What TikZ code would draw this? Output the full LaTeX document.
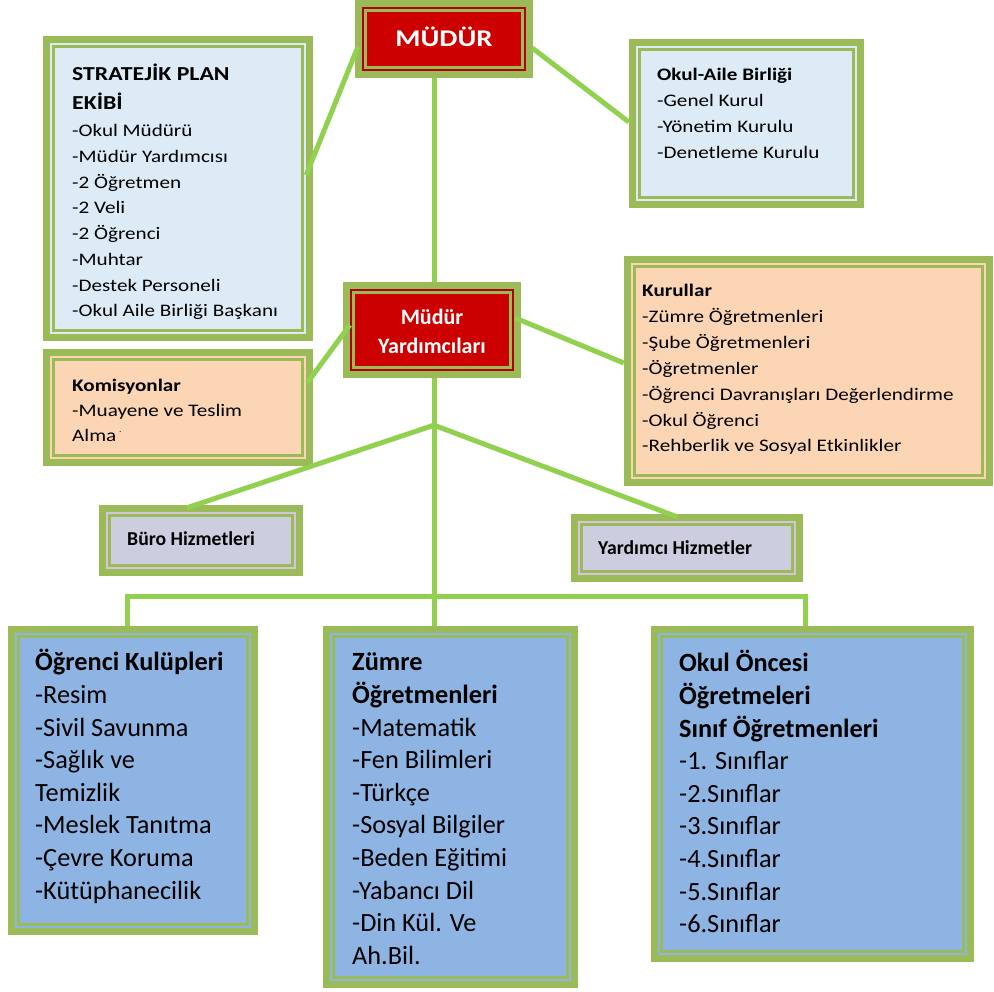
\documentclass[tikz,border=0pt]{standalone}
\usepackage{fontspec}
\setmainfont{Carlito}
\newfontfamily\wfont{Carlito}[FakeStretch=1.2]
\usetikzlibrary{fit,calc}
\definecolor{ogreen}{HTML}{9BBB59}
\definecolor{lgreen}{HTML}{92D050}
\definecolor{lblue}{HTML}{DDEBF7}
\definecolor{peach}{HTML}{FCD5B4}
\definecolor{mblue}{HTML}{8DB4E2}
\definecolor{mred}{HTML}{CC0000}
\definecolor{dred}{HTML}{B40000}
\definecolor{lav}{HTML}{CDCDE0}
\definecolor{lavp}{HTML}{D5C4DC}
\newcommand\ofbox[7]{%
  \fill[ogreen] (#2,#3) rectangle (#4,#5);
  \fill[#6] ({#2+7},{#3+7}) rectangle ({#4-7},{#5-7});
  \draw[ogreen, line width=2.5pt, fill=#7] ({#2+10.5},{#3+10.5}) rectangle ({#4-10.5},{#5-10.5});
  \node[fit={(#2,#3)(#4,#5)}, inner sep=0pt, draw=none] (#1) {};
}
\newcommand\bodyw{\wfont\fontsize{17.6}{25.7}\selectfont}
\newcommand\bodyb{\fontsize{26.3}{32.6}\selectfont}
\begin{document}
\begin{tikzpicture}[x=1pt,y=-1pt,
  conn/.style={draw=lgreen, line width=5pt},
  tb/.style={anchor=north west, inner sep=0pt, align=left, text=black}]
\fill[white] (0,0) rectangle (994,992);
\useasboundingbox (0,0) rectangle (994,992);

% boxes
\ofbox{mud}{355}{0}{533}{78}{dred}{mred}
\ofbox{myd}{343}{282}{521}{378}{dred}{mred}
\ofbox{strat}{43}{36}{313}{341}{lblue}{lblue}
\ofbox{oab}{629}{39}{864}{208}{lblue}{lblue}
\ofbox{kom}{43}{349}{313}{466}{peach}{peach}
\ofbox{kur}{624}{256}{993}{486}{peach}{peach}
\ofbox{buro}{99}{505}{303}{576}{lavp}{lav}
\ofbox{yard}{571}{514}{803}{582}{lavp}{lav}
\ofbox{ogr}{8}{626}{258}{935}{mblue}{mblue}
\ofbox{zum}{323}{626}{578}{988}{mblue}{mblue}
\ofbox{okul}{651}{626}{974}{962}{mblue}{mblue}

% texts
\node[anchor=base, inner sep=0pt, text=white, font={\wfont\bfseries\fontsize{24}{29}\selectfont}] (mudT) at (444,46.7) {MÜDÜR};
\node[anchor=north, inner sep=0pt, align=center, text=white, font={\bfseries\fontsize{22}{29.5}\selectfont}] (mydT) at (432,303.35) {\strut Müdür\\Yardımcıları};

\node[tb, font={\wfont\bfseries\fontsize{19.8}{29}\selectfont}] (stratT) at (72,59.7) {\strut STRATEJİK PLAN\\EKİBİ};
\node[tb, font=\bodyw] (stratB) at (72,118.7) {\strut -Okul Müdürü\\-Müdür Yardımcısı\\-2 Öğretmen\\-2 Veli\\-2 Öğrenci\\-Muhtar\\-Destek Personeli\\-Okul Aile Birliği Başkanı};

\node[tb, font=\bodyw] (oabT) at (657,62.8) {\strut{\bfseries Okul-Aile Birliği}\\-Genel Kurul\\-Yönetim Kurulu\\-Denetleme Kurulu};

\node[tb, font={\wfont\fontsize{17.6}{25}\selectfont}] (komT) at (72,374) {\strut{\bfseries Komisyonlar}\\-Muayene ve Teslim\\Alma\,{\fontsize{8}{8}\selectfont\raisebox{9pt}{.}}};

\node[tb, font={\wfont\fontsize{17.6}{25.85}\selectfont}] (kurT) at (642,278.6) {\strut{\bfseries Kurullar}\\-Zümre Öğretmenleri\\-Şube Öğretmenleri\\-Öğretmenler\\-Öğrenci Davranışları Değerlendirme\\-Okul Öğrenci\\-Rehberlik ve Sosyal Etkinlikler};

\node[anchor=base west, inner sep=0pt, font={\bfseries\fontsize{19.7}{24}\selectfont}] (buroT) at (127,545) {Büro Hizmetleri};
\node[anchor=base west, inner sep=0pt, font={\bfseries\fontsize{19.7}{24}\selectfont}] (yardT) at (598,554) {Yardımcı Hizmetler};

\node[tb, font=\bodyb] (ogrT) at (35,647.9) {\strut{\bfseries Öğrenci Kulüpleri}\\-Resim\\-Sivil Savunma\\-Sağlık ve\\Temizlik\\-Meslek Tanıtma\\-Çevre Koruma\\-Kütüphanecilik};
\node[tb, font=\bodyb] (zumT) at (352,647.9) {\strut{\bfseries Zümre}\\{\bfseries Öğretmenleri}\\-Matematik\\-Fen Bilimleri\\-Türkçe\\-Sosyal Bilgiler\\-Beden Eğitimi\\-Yabancı Dil\\-Din Kül. Ve\\Ah.Bil.};
\node[tb, font=\bodyb] (okulT) at (679,648.9) {\strut{\bfseries Okul Öncesi}\\{\bfseries Öğretmeleri}\\{\bfseries Sınıf Öğretmenleri}\\-1. Sınıflar\\-2.Sınıflar\\-3.Sınıflar\\-4.Sınıflar\\-5.Sınıflar\\-6.Sınıflar};

% connectors
\coordinate (br) at ($(myd.south)+(2,47)$);
\coordinate (bus) at ($(myd.south)+(2,218)$);
\draw[conn] ($(mud.south)+(-10,0)$) -- ($(myd.north)+(2,0)$);
\draw[conn] ($(mud.west)+(3,8)$) -- ($(strat.east)+(-7,-13.5)$);
\draw[conn] ($(mud.east)+(-1,9)$) -- ($(oab.west)+(0,-1.5)$);
\draw[conn] ($(myd.west)+(7,-5)$) -- ($(kom.east)+(-6,-24.5)$);
\draw[conn] ($(myd.east)+(-6,-12)$) -- ($(kur.west)+(0,-8)$);
\draw[conn] ($(myd.south)+(2,0)$) -- ($(zum.north)+(-16.5,0)$);
\draw[conn] (br) -- ($(buro.north)+(-14,3)$);
\draw[conn] (br) -- ($(yard.north)+(-10,3)$);
\draw[conn] ($(ogr.north)+(-6,0)$) |- (bus) -| ($(okul.north)+(-7.5,0)$);
\end{tikzpicture}
\end{document}
